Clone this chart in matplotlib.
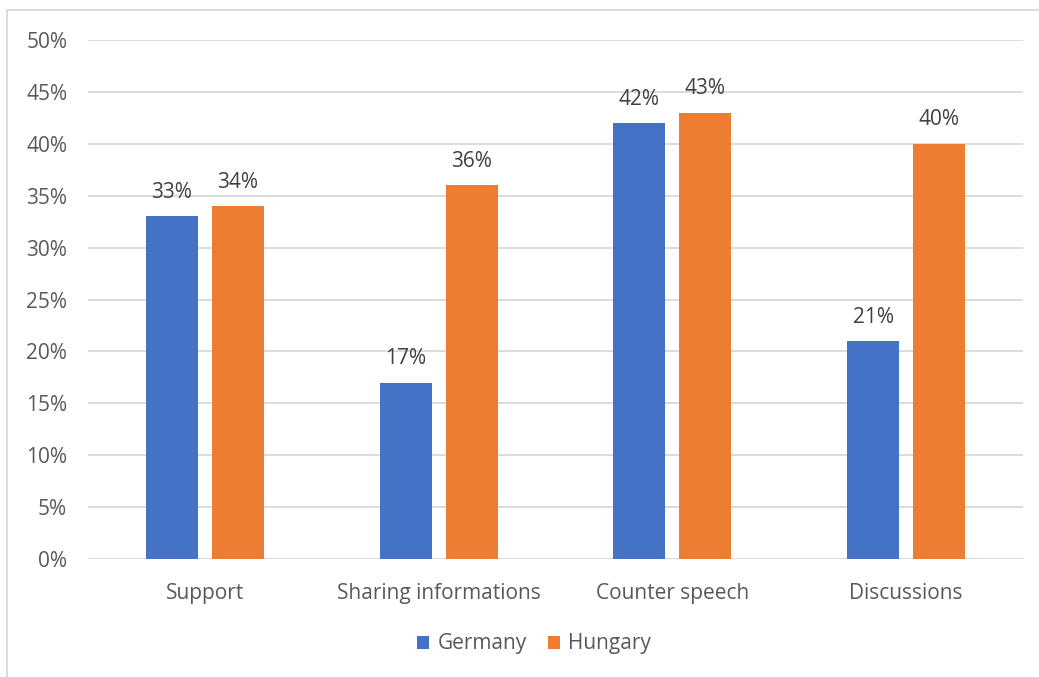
import numpy as np
import matplotlib.pyplot as plt
from matplotlib.patches import Rectangle

categories = ['Support', 'Sharing informations', 'Counter speech', 'Discussions']
germany = [33, 17, 42, 21]
hungary = [34, 36, 43, 40]

plt.rcParams['font.family'] = ['Open Sans', 'DejaVu Sans']
text_col = '#595959'

fig = plt.figure(figsize=(10.39, 6.77), dpi=100)
ax = fig.add_axes([88/1039, 1-559/677, (1023-88)/1039, (559-40)/677])

# chart frame, left and top edges only show
fig.patches.append(Rectangle((7/1039, -0.1), 1.2, 1-10/677+0.1, transform=fig.transFigure,
                             fill=False, edgecolor='#d9d9d9', linewidth=1.3))

x = np.arange(len(categories))
w = 0.222
off = 0.141
b1 = ax.bar(x - off, germany, w, color='#4472C4', label='Germany', zorder=3)
b2 = ax.bar(x + off, hungary, w, color='#ED7D31', label='Hungary', zorder=3)

for bars, vals in [(b1, germany), (b2, hungary)]:
    for b, v in zip(bars, vals):
        ax.text(b.get_x() + b.get_width()/2, v + 1.3, f'{v}%', ha='center', va='bottom',
                fontsize=15, color='#404040')

ax.set_xlim(-0.5, 3.5)
ax.set_ylim(0, 50)
ax.set_yticks(range(0, 51, 5))
ax.set_yticklabels([f'{t}%' for t in range(0, 51, 5)])
ax.set_xticks(x)
ax.set_xticklabels(categories)
ax.tick_params(length=0, labelsize=15, labelcolor=text_col)
ax.tick_params(axis='y', pad=15)
ax.tick_params(axis='x', pad=17)
ax.grid(axis='y', color='#d9d9d9', linewidth=1.3, zorder=0)
for s in ax.spines.values():
    s.set_visible(False)

fig.legend(handles=[b1, b2], labels=['Germany', 'Hungary'], loc='center',
           bbox_to_anchor=(534/1039, 1-644/677), ncol=2, frameon=False,
           fontsize=15, labelcolor=text_col, handlelength=0.6, handleheight=0.6,
           handletextpad=0.4, columnspacing=1.0)

fig.savefig('out.png', dpi=100)
